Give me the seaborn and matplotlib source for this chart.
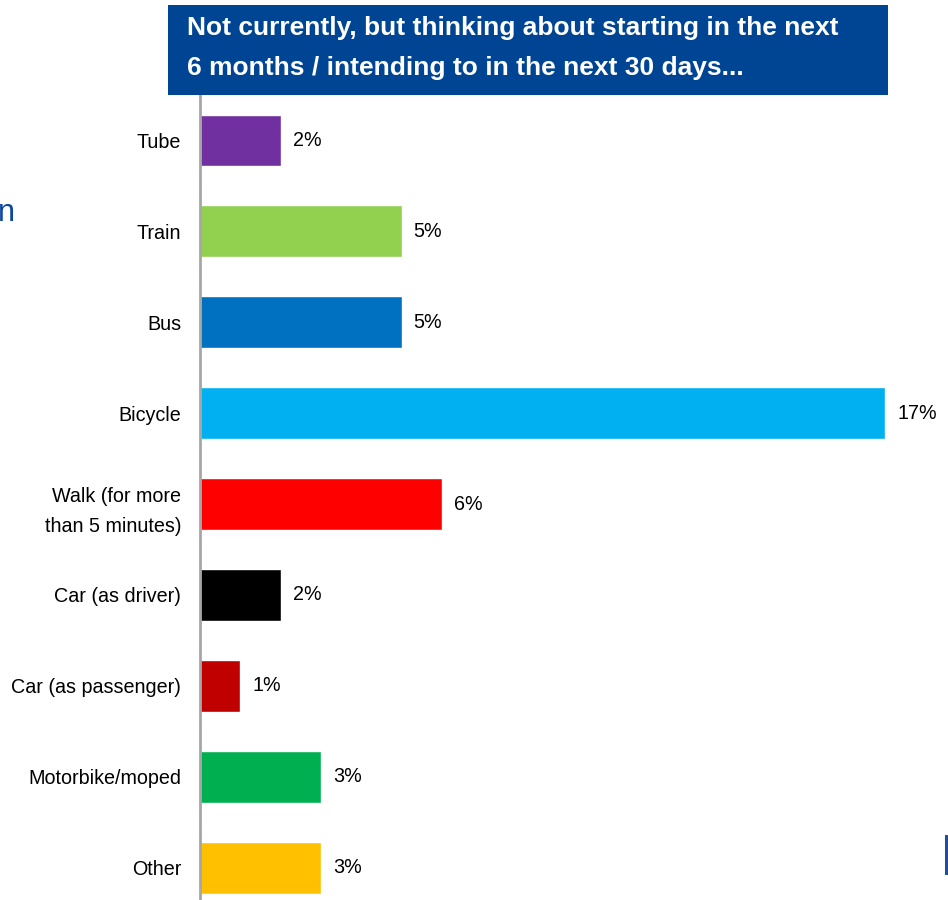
import matplotlib
matplotlib.use("Agg")
import matplotlib.pyplot as plt
import seaborn as sns
import pandas as pd
from matplotlib.patches import Rectangle

categories = ["Tube", "Train", "Bus", "Bicycle", "Walk (for more\nthan 5 minutes)",
              "Car (as driver)", "Car (as passenger)", "Motorbike/moped", "Other"]
values = [2, 5, 5, 17, 6, 2, 1, 3, 3]
colors = ["#7030A0", "#92D050", "#0070C0", "#00B0F0", "#FF0000",
          "#000000", "#C00000", "#00B050", "#FFC000"]
value_labels = ["2%", "5%", "5%", "17%", "6%", "2%", "1%", "3%", "3%"]
header = "Not currently, but thinking about starting in the next\n6 months / intending to in the next 30 days..."

FONT = "Liberation Sans"
sns.set_theme(style="white")
plt.rcParams["font.family"] = [FONT, "DejaVu Sans"]

W, H = 948, 900
fig = plt.figure(figsize=(W / 100, H / 100), dpi=100)
fig.patch.set_facecolor("white")

ax_left, ax_top, ax_bottom, ax_right = 200, 95, 900, 948
ax = fig.add_axes([ax_left / W, 1 - ax_bottom / H, (ax_right - ax_left) / W, (ax_bottom - ax_top) / H])

df = pd.DataFrame({"cat": categories, "val": values})
sns.barplot(data=df, x="val", y="cat", hue="cat", palette=colors, legend=False,
            orient="h", width=0.57, saturation=1, ax=ax)

ax.set_ylim(8.356, -0.5)
ax.set_xlim(0, (ax_right - ax_left) / 40.3)
ax.set_xlabel("")
ax.set_ylabel("")
ax.set_xticks([])
ax.tick_params(axis="y", length=0, pad=13.5, labelsize=14.2, labelcolor="black")
for lab in ax.get_yticklabels():
    lab.set_multialignment("right")
    lab.set_linespacing(1.7)
for s in ["top", "right", "bottom"]:
    ax.spines[s].set_visible(False)
ax.spines["left"].set_color("#A6A6A6")
ax.spines["left"].set_linewidth(2)

for i, (v, t) in enumerate(zip(values, value_labels)):
    ax.annotate(t, xy=(v, i), xytext=(8.6, 0), textcoords="offset points",
                va="center", ha="left", fontsize=14.2, color="black")

# header box
fig.patches.append(Rectangle((168 / W, 1 - 95 / H), (888 - 168) / W, (95 - 5) / H,
                             transform=fig.transFigure, facecolor="#004494",
                             edgecolor="none", zorder=5))
fig.text(187 / W, 1 - 48 / H, header, color="white", fontsize=19, fontweight="bold",
         ha="left", va="center", linespacing=1.85, zorder=6,
         family=[FONT, "DejaVu Sans"])

# cropped artefacts at the edges of the slide
fig.text(-2 / W, 1 - 213 / H, "n", color="#0A47A0", fontsize=22, ha="left", va="center",
         family=[FONT, "DejaVu Sans"])
fig.patches.append(Rectangle((945 / W, 1 - 875 / H), 3 / W, 40 / H,
                             transform=fig.transFigure, facecolor="#1F4E9A",
                             edgecolor="none", zorder=5))

fig.savefig("out.png", dpi=100)
